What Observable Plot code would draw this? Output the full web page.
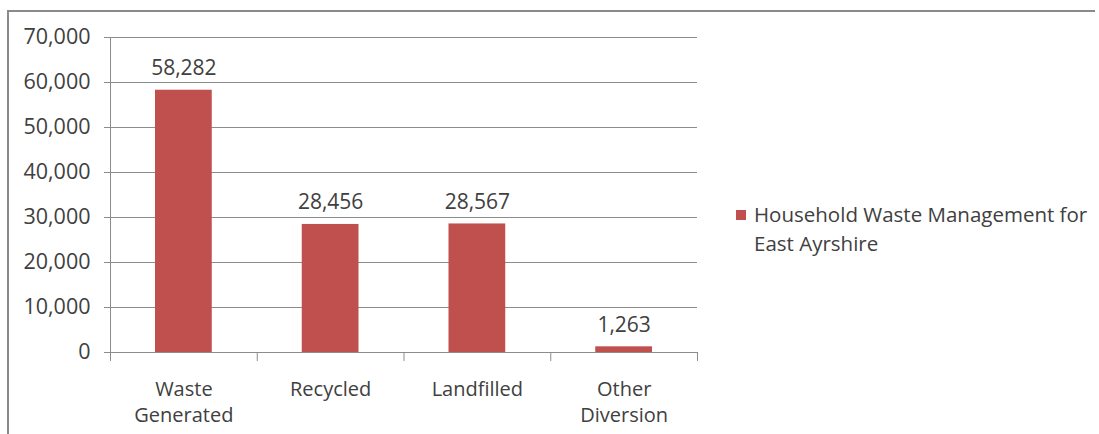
<!DOCTYPE html>
<html>
<head>
<meta charset="utf-8">
<script src="https://cdn.jsdelivr.net/npm/d3@7"></script>
<script src="https://cdn.jsdelivr.net/npm/@observablehq/plot@0.6"></script>
<style>
  html, body { margin: 0; padding: 0; background: #fff; }
  #wrap { position: relative; width: 1099px; height: 434px; overflow: hidden; font-family: "Open Sans", sans-serif; }
  #frame { position: absolute; left: 7px; top: 10px; width: 1088px; height: 440px; border-top: 2px solid #8a8a8a; border-left: 2px solid #8a8a8a; box-sizing: border-box; pointer-events: none; }
  #chart { position: absolute; left: 0; top: 0; }
  #legend { position: absolute; left: 736px; top: 200px; display: flex; align-items: flex-start; color: #404040; font-size: 20.5px; line-height: 29px; }
  #legend .sw { width: 10px; height: 10px; background: #C0504D; margin-top: 10px; margin-right: 8px; flex: none; }
</style>
</head>
<body>
<div id="wrap">
  <div id="chart"></div>
  <div id="frame"></div>
  <div id="legend"><div class="sw"></div><div id="legend-text"></div></div>
</div>
<script>
const categories = ["Waste\nGenerated", "Recycled", "Landfilled", "Other\nDiversion"];
const values = [58282, 28456, 28567, 1263];
const yTicks = [0, 10000, 20000, 30000, 40000, 50000, 60000, 70000];
const seriesName = "Household Waste Management for\nEast Ayrshire";
const barColor = "#C0504D";

const data = categories.map((c, i) => ({cat: c, i, value: values[i]}));
const fmt = d3.format(",");
const boundaries = d3.range(categories.length + 1);
const centers = categories.map((c, i) => i + 0.5);

const plot = Plot.plot({
  width: 1099,
  height: 434,
  marginLeft: 110,
  marginRight: 402,
  marginTop: 37,
  marginBottom: 82,
  style: {fontFamily: "Open Sans, sans-serif", fontSize: "20px", color: "#404040", background: "transparent"},
  x: {domain: [0, categories.length], axis: null},
  y: {domain: [0, 70000], axis: null},
  marks: [
    Plot.ruleY(yTicks.filter(d => d > 0), {stroke: "#8c8c8c", strokeWidth: 1, strokeOpacity: 1}),
    Plot.rectY(data, {x1: "i", x2: d => d.i + 1, y: "value", fill: barColor, insetLeft: 45, insetRight: 45}),
    Plot.text(data, {x: d => d.i + 0.5, y: "value", text: d => fmt(d.value), lineAnchor: "bottom", dy: -15, fill: "#404040", fontSize: 21}),
    Plot.axisY({ticks: yTicks, tickFormat: fmt, tickSize: 6, tickPadding: 14, stroke: "#8c8c8c", fill: "#404040", strokeOpacity: 1, fontSize: 21.5, label: null}),
    Plot.axisX({ticks: boundaries, tickFormat: () => "", tickSize: 9, stroke: "#8c8c8c", strokeOpacity: 1, label: null}),
    Plot.axisX({ticks: centers, tickFormat: d => categories[Math.floor(d)], tickSize: 0, tickPadding: 25, fill: "#404040", fontSize: 20, lineHeight: 1.3, label: null}),
    Plot.ruleY([0], {stroke: "#8c8c8c", strokeWidth: 1}),
    Plot.ruleX([0], {stroke: "#8c8c8c", strokeWidth: 1})
  ]
});
document.getElementById("chart").appendChild(plot);
document.getElementById("legend-text").innerHTML = seriesName.split("\n").join("<br>");
</script>
</body>
</html>
